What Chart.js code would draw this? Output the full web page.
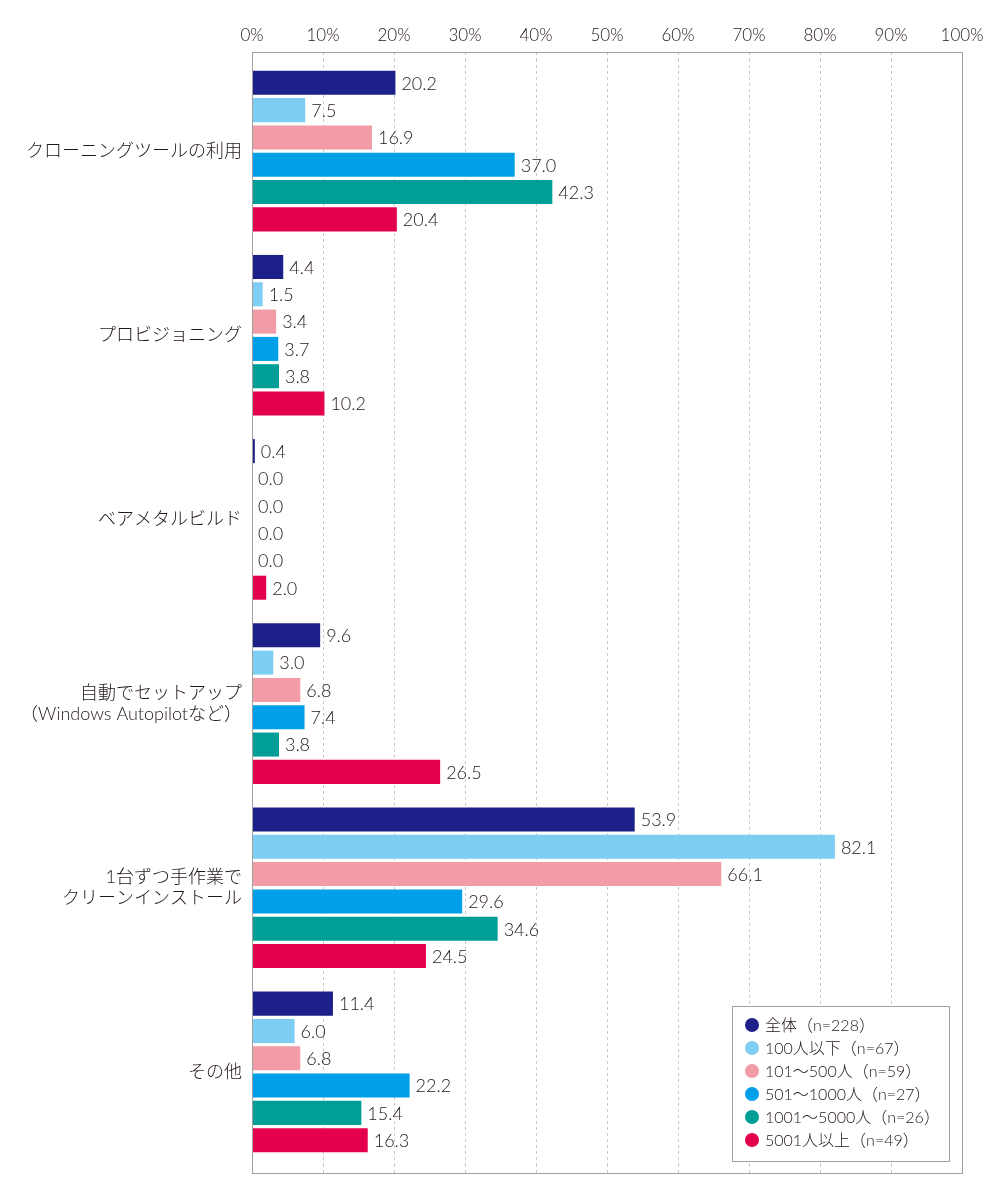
<!DOCTYPE html>
<html>
<head>
<meta charset="utf-8">
<script src="https://cdn.jsdelivr.net/npm/chart.js@4/dist/chart.umd.min.js"></script>
<style>
html,body{margin:0;padding:0;background:#fff;}
#wrap{width:1000px;height:1200px;position:relative;}
</style>
</head>
<body>
<div id="wrap"><canvas id="c" width="1000" height="1200"></canvas></div>
<script>
const categories = [
  "クローニングツールの利用",
  "プロビジョニング",
  "ベアメタルビルド",
  ["自動でセットアップ", "（Windows Autopilotなど）"],
  ["1台ずつ手作業で", "クリーンインストール"],
  "その他"
];
const seriesNames = ["全体（n=228）", "100人以下（n=67）", "101～500人（n=59）", "501～1000人（n=27）", "1001～5000人（n=26）", "5001人以上（n=49）"];
const allValues   = [20.2, 4.4, 0.4, 9.6, 53.9, 11.4];
const upTo100     = [7.5, 1.5, 0.0, 3.0, 82.1, 6.0];
const from101     = [16.9, 3.4, 0.0, 6.8, 66.1, 6.8];
const from501     = [37.0, 3.7, 0.0, 7.4, 29.6, 22.2];
const from1001    = [42.3, 3.8, 0.0, 3.8, 34.6, 15.4];
const over5001    = [20.4, 10.2, 2.0, 26.5, 24.5, 16.3];
const seriesColors = ["#1d2088", "#7ecef4", "#f19ca7", "#00a0e9", "#009e96", "#e5004f"];
const xTicks = [0, 10, 20, 30, 40, 50, 60, 70, 80, 90, 100];

const seriesValues = [allValues, upTo100, from101, from501, from1001, over5001];
const FONT = "Lato,'Noto Sans CJK JP',sans-serif";
const TEXT = '#231815';
const FRAME_TOP = 52, FRAME_BOTTOM = 1173;

const frame = {
  id: 'frame',
  beforeDatasetsDraw(chart) {
    const {ctx, chartArea: a} = chart;
    const xs = chart.scales.x;
    ctx.save();
    ctx.strokeStyle = '#c8c8c8';
    ctx.lineWidth = 1;
    ctx.setLineDash([3, 3]);
    xTicks.forEach(v => {
      const px = Math.round(xs.getPixelForValue(v)) + 0.5;
      ctx.beginPath();
      ctx.moveTo(px, FRAME_TOP); ctx.lineTo(px, a.top);
      ctx.moveTo(px, a.bottom); ctx.lineTo(px, FRAME_BOTTOM);
      ctx.stroke();
    });
    ctx.restore();
  },
  afterDatasetsDraw(chart) {
    const {ctx, chartArea: a} = chart;
    ctx.save();
    ctx.strokeStyle = '#a0a0a0';
    ctx.lineWidth = 1;
    ctx.strokeRect(Math.round(a.left) + 0.5, FRAME_TOP + 0.5, Math.round(a.right - a.left), FRAME_BOTTOM - FRAME_TOP);
    ctx.restore();
  }
};

const dataLabels = {
  id: 'dataLabels',
  afterDatasetsDraw(chart) {
    const ctx = chart.ctx;
    ctx.save();
    ctx.font = "300 18px " + FONT;
    ctx.fillStyle = TEXT;
    ctx.textAlign = 'left';
    ctx.textBaseline = 'middle';
    chart.data.datasets.forEach((ds, i) => {
      chart.getDatasetMeta(i).data.forEach((bar, j) => {
        ctx.fillText(ds.data[j].toFixed(1), bar.x + 6, bar.y + 1);
      });
    });
    ctx.restore();
  }
};

const boxLegend = {
  id: 'boxLegend',
  afterDraw(chart) {
    const ctx = chart.ctx;
    const x0 = 732, y0 = 1006, w = 217, h = 155;
    ctx.save();
    ctx.fillStyle = '#fff';
    ctx.fillRect(x0, y0, w, h);
    ctx.strokeStyle = '#a0a0a0';
    ctx.lineWidth = 1;
    ctx.strokeRect(x0 + 0.5, y0 + 0.5, w, h);
    ctx.font = "300 16px " + FONT;
    ctx.textBaseline = 'middle';
    ctx.textAlign = 'left';
    chart.data.datasets.forEach((ds, i) => {
      const cy = y0 + 19 + i * 23;
      ctx.beginPath();
      ctx.arc(x0 + 20, cy, 7, 0, Math.PI * 2);
      ctx.fillStyle = ds.backgroundColor;
      ctx.fill();
      ctx.fillStyle = TEXT;
      ctx.fillText(ds.label, x0 + 33, cy + 1);
    });
    ctx.restore();
  }
};

new Chart(document.getElementById('c'), {
  type: 'bar',
  data: {
    labels: categories,
    datasets: seriesNames.map((name, i) => ({
      label: name,
      data: seriesValues[i],
      backgroundColor: seriesColors[i],
      borderWidth: 0,
      categoryPercentage: 0.89,
      barPercentage: 0.88
    }))
  },
  options: {
    indexAxis: 'y',
    responsive: false,
    animation: false,
    devicePixelRatio: 1,
    layout: {padding: {left: 0, right: 38, top: 0, bottom: 36}},
    plugins: {legend: {display: false}, tooltip: {enabled: false}},
    scales: {
      x: {
        position: 'top',
        min: 0, max: 100,
        afterBuildTicks(scale) { scale.ticks = xTicks.map(v => ({value: v})); },
        afterFit(scale) { scale.height = 59; },
        ticks: {
          callback: v => v + '%',
          font: {size: 17, family: FONT, weight: 300},
          color: TEXT,
          padding: 13,
          maxRotation: 0
        },
        grid: {
          color: '#c8c8c8',
          drawTicks: false,
          tickLength: 0
        },
        border: {display: false, dash: [3, 3]}
      },
      y: {
        afterFit(scale) { scale.width = 252; },
        ticks: {
          font: {size: 18, family: FONT, weight: 300, lineHeight: 1.2},
          color: TEXT,
          padding: 10,
          crossAlign: 'near'
        },
        grid: {display: false, drawTicks: false},
        border: {display: false}
      }
    }
  },
  plugins: [frame, dataLabels, boxLegend]
});
</script>
</body>
</html>
